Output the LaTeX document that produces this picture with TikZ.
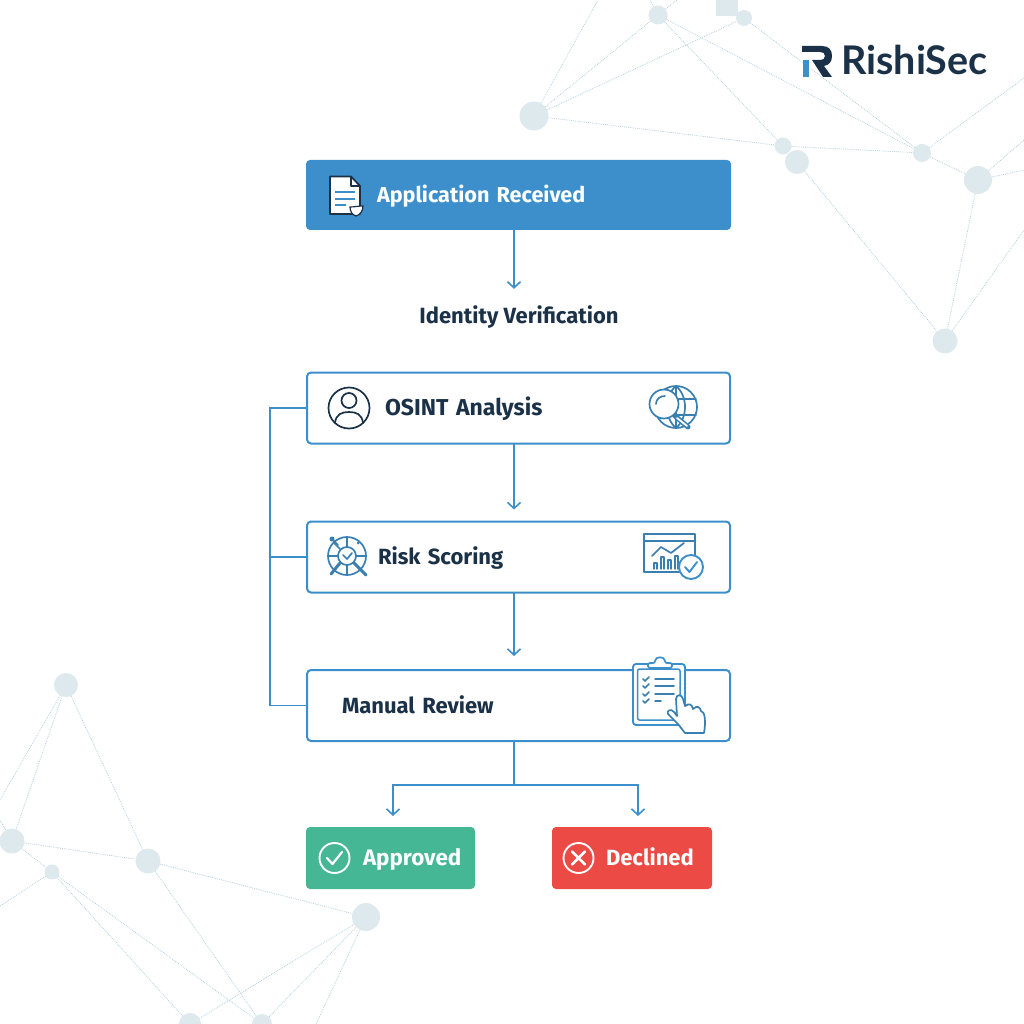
\documentclass[tikz,border=0pt]{standalone}
\usepackage{fontspec}
\setmainfont{Fira Sans}
\newfontfamily\logofont{Lato}
\usetikzlibrary{arrows.meta}
\definecolor{flow}{HTML}{3D8FCB}
\definecolor{ink}{HTML}{1B3148}
\definecolor{net}{HTML}{AFCEDD}
\definecolor{netfill}{HTML}{DEE9EE}
\definecolor{okgreen}{HTML}{45B795}
\definecolor{badred}{HTML}{EB4A45}
\definecolor{icblue}{HTML}{3A7FB2}
\tikzset{
  x=1pt,y=-1pt,
  netline/.style={net,line width=.8pt,dash pattern=on .8pt off 1.1pt},
  netdot/.style={circle,fill=netfill,draw=none,inner sep=0pt},
  box/.style={rounded corners=4pt,draw=flow,line width=2pt,fill=white,minimum width=423pt,minimum height=71pt,
    text width=423pt,inner xsep=0pt,inner ysep=0pt,outer sep=0pt,align=left,text height=17.5pt,text depth=2.5pt,
    text=ink,font=\fontsize{22}{24}\selectfont\bfseries},
  solidbox/.style={box,draw=none,text=white,minimum width=425pt,text width=425pt},
  statusbox/.style={solidbox,minimum height=62pt},
  flowline/.style={flow,line width=1.7pt},
  arrowline/.style={flowline,-{Straight Barb[length=6pt,width=13pt,line width=1.6pt]}},
  icd/.style={ink,line width=1.7pt,line cap=round,line join=round},
  icb/.style={icblue,line width=1.7pt,line cap=round,line join=round},
}
\begin{document}
\begin{tikzpicture}
\useasboundingbox (0,0) rectangle (1024,1024);
% --- background network, top right
\foreach \n/\xx/\yy/\d in {n1/658/15/19,n2/744/18/16,n3/534/116/29,n4/783/146/17,n5/797/162/24,n6/922/153/18,n7/978/180/28,n8/945/341/25}{
  \node[netdot,minimum size=\d pt] (\n) at (\xx,\yy) {};
}
\node[fill=netfill,inner sep=0pt,minimum width=22pt,minimum height=16pt] (n0) at (727,8) {};
\coordinate (t1) at (598,0);\coordinate (t2) at (650,0);\coordinate (t3) at (677,0);
\coordinate (r1) at (1024,78);\coordinate (r2) at (1024,140);\coordinate (r3) at (1024,170);\coordinate (r4) at (1024,230);
\foreach \a/\b in {n3/t1,n3/n1,n3/n2,n3/n4,n4/n6,n1/n4,n1/n6,n2/n6,n5/n8,n6/n7,n7/n8,n6/r1,n7/r2,n8/r4,n7/r3,n1/t2,n1/t3}{
  \draw[netline] (\a) -- (\b);
}
% --- background network, bottom left
\foreach \n/\xx/\yy/\d in {a/66/685/24,b/12/841/25,c/52/872/15,d/148/861/25,e/366/917/28,f/190/1024/22,g/262/1024/20}{
  \node[netdot,minimum size=\d pt] (\n) at (\xx,\yy) {};
}
\coordinate (l1) at (0,800);\coordinate (l2) at (0,820);\coordinate (l3) at (0,906);\coordinate (b1) at (316,1024);
\foreach \a/\b in {a/l1,a/b,a/d,b/c,b/d,d/e,c/f,c/g,d/g,b/l2,c/l3,f/e,g/e,e/b1}{
  \draw[netline] (\a) -- (\b);
}
% --- flow boxes
\node[solidbox,fill=flow,minimum height=70pt,font=\fontsize{21.6}{24}\selectfont\bfseries] (app) at (518.5,195) {\hspace*{71pt}Application Received};
\node[text=ink,font=\fontsize{22}{24}\selectfont\bfseries,inner sep=0pt,text height=17.5pt,text depth=2.5pt] (idv) at (519,316) {Identity Verification};
\node[box,font=\fontsize{23}{24}\selectfont\bfseries] (osint) at (518.5,408) {\hspace*{78pt}OSINT Analysis};
\node[box] (risk) at (518.5,557) {\hspace*{71pt}Risk Scoring};
\node[box] (manual) at (518.5,705.5) {\hspace*{35pt}Manual Review};
\node[statusbox,fill=okgreen,minimum width=169pt,text width=169pt,font=\fontsize{22.4}{24}\selectfont\bfseries] (approved) at (390.5,858) {\hspace*{57pt}Approved};
\node[statusbox,fill=badred,minimum width=160pt,text width=160pt] (declined) at (632,858) {\hspace*{54pt}Declined};
% --- connectors
\draw[arrowline,shorten >=17pt] ([xshift=-4.5pt]app.south) -- ([xshift=-4.5pt]app.south |- idv.north);
\draw[arrowline,shorten >=12pt] ([xshift=-4.5pt]osint.south) -- ([xshift=-4.5pt]risk.north);
\draw[arrowline,shorten >=14pt] ([xshift=-4.5pt]risk.south) -- ([xshift=-4.5pt]manual.north);
\coordinate (split) at ([xshift=-4.5pt,yshift=-44pt]manual.south);
\draw[flowline] ([xshift=-4.5pt]manual.south) -- (split);
\draw[arrowline,shorten >=11pt] (split) -| ([xshift=2.5pt]approved.north);
\draw[arrowline,shorten >=11pt] (split) -| ([xshift=6pt]declined.north);
\coordinate (bus) at ([xshift=-37pt]osint.west);
\draw[flowline] (osint.west) -- (bus) |- (manual.west);
\draw[flowline] (risk.west) -- (bus |- risk.west);
% --- icon: document
\fill[white,draw=ink,line width=1.7pt,line join=round] (330,176.5) -- (351,176.5) -- (360,186) -- (360,214) -- (330,214) -- cycle;
\draw[icd] (351,176.5) -- (351,186) -- (360,186);
\draw[flow,line width=1.8pt] (335,192) -- (355,192) (335,199) -- (355,199) (335,205) -- (346,205);
\fill[white,draw=ink,line width=1.2pt] (350,207) .. controls (354,207) and (358,206) .. (363,206) .. controls (363,211) and (360,215) .. (356,216) .. controls (352,215) and (350,211) .. (350,207) -- cycle;
% --- icon: person
\draw[icd] (349,408) circle (20.5);
\draw[icd] (349,400.5) circle (7.5);
\draw[icd] (335,423) .. controls (336,414) and (342,412) .. (349,412) .. controls (356,412) and (362,414) .. (363,423);
% --- icon: globe and magnifier
\draw[icb] (676,407) circle (21);
\draw[icb] (676,386) .. controls (664,396) and (664,418) .. (676,428) .. controls (688,418) and (688,396) .. (676,386);
\draw[icb] (676,386) -- (676,428) (656,399) -- (696,399) (656,415) -- (696,415);
\fill[white,draw=icblue,line width=1.7pt] (664,404) circle (14.5);
\draw[icb] (656,404) .. controls (656,399) and (660,396) .. (665,396);
\draw[icblue,line width=5pt,line cap=round] (675,416) -- (688,427);
\draw[white,line width=1.8pt,line cap=round] (677,418) -- (687,426);
% --- icon: risk wheel
\draw[icb] (347,556) circle (19);
\draw[icb] (347,556) circle (9);
\draw[icb] (347,537) -- (347,547) (347,565) -- (347,575) (328,556) -- (338,556) (356,556) -- (366,556) (334,543) -- (340,549);
\draw[icb] (343,555) -- (347,559) -- (352,553);
\draw[icb] (331,538) -- (338,545);
\draw[icb,line width=3pt] (354,563) -- (366,575);
\draw[icb,line width=3pt] (340,563) -- (331,574);
\fill[icblue] (332,539) circle (2.5) (358,543) circle (1.5);
% --- icon: chart window
\draw[icb] (644,534) rectangle (695,572);
\draw[icb] (644,541) -- (695,541);
\draw[icb] (652,556) -- (661,547) -- (671,553) -- (684,543);
\draw[icb,line width=1.4pt] (654,569) -- (654,563) -- (657,563) -- (657,569) (661,569) -- (661,557) -- (664,557) -- (664,569) (668,569) -- (668,560) -- (671,560) -- (671,569) (675,569) -- (675,556) -- (678,556) -- (678,569);
\fill[white,draw=flow,line width=1.9pt] (691,567) circle (12);
\draw[flow,line width=1.9pt,line cap=round,line join=round] (685,567) -- (689.5,572) -- (697,562);
% --- icon: clipboard
\fill[white,draw=flow,line width=1.9pt,rounded corners=3pt] (633,664) rectangle (685,725);
\draw[flow,line width=1.5pt,rounded corners=2pt] (637.5,669) rectangle (680,720);
\fill[white,draw=flow,line width=1.7pt,rounded corners=2pt] (648,668) -- (648,663) -- (655,663) .. controls (655,656) and (665,656) .. (665,663) -- (672,663) -- (672,668) -- cycle;
\foreach \yy/\ww in {679/682,686/682,694/682,701/669}{
  \draw[icb,line width=1.5pt] (643,\yy) -- (645,\yy+2) -- (649,\yy-2);
  \draw[icb,line width=1.5pt] (655,\yy) -- (\ww-8,\yy);
}
\fill[white,draw=icblue,line width=1.7pt,line join=round,line cap=round] (678,724) -- (668,714) .. controls (666,711) and (671,708) .. (674,712) -- (677,716) -- (676,699) .. controls (676,694) and (682,694) .. (683,699) -- (685,706) .. controls (689,703) and (692,704) .. (693,709) .. controls (697,705) and (700,707) .. (701,711) .. controls (705,711) and (706,722) .. (704,733) -- (685,733) -- cycle;
% --- icon: approved / declined
\draw[white,line width=1.9pt] (334.5,858) circle (15);
\draw[white,line width=2.2pt,line cap=round,line join=round] (327,858) -- (332.5,864) -- (342,852);
\draw[white,line width=1.9pt] (578.5,858) circle (15);
\draw[white,line width=2.6pt,line cap=round] (572,851.5) -- (585,864.5) (585,851.5) -- (572,864.5);
% --- logo
\fill[ink] (802,46) -- (822,46) .. controls (829,46) and (832,50) .. (832,56) .. controls (832,62) and (829,65) .. (824,66) -- (832,77) -- (823,77) -- (812,60) -- (820,60) .. controls (823,60) and (825,59) .. (825,56) .. controls (825,53) and (823,52) .. (820,52) -- (802,52) -- cycle;
\fill[flow] (803,60) rectangle (809,77);
\node[anchor=base west,inner sep=0pt,text=ink,font=\logofont\fontsize{39.5}{42}\selectfont\bfseries] (brand) at (841,75) {RishiSec};
\end{tikzpicture}
\end{document}
